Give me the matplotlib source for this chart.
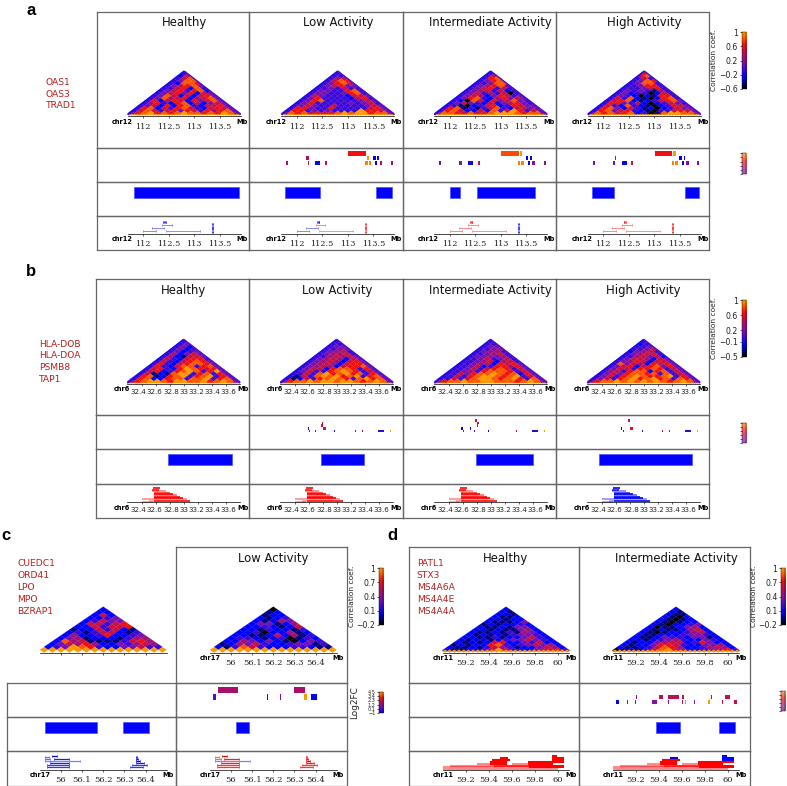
import matplotlib
matplotlib.use("Agg")
import matplotlib.pyplot as plt
import numpy as np
from matplotlib.collections import PolyCollection
from matplotlib.colors import LinearSegmentedColormap
from matplotlib.transforms import ScaledTranslation

W, H = 787, 786
fig = plt.figure(figsize=(W / 100, H / 100), dpi=100, facecolor="white")
plt.rcParams["font.family"] = "DejaVu Sans"

CMAP = LinearSegmentedColormap.from_list("corr", [
    (0.00, "#000000"), (0.22, "#0000ff"), (0.45, "#7a10b0"), (0.60, "#b01060"),
    (0.78, "#f01010"), (0.89, "#ff5500"), (1.00, "#ff9900")])
FRAME = "#666666"
GENE = "#b8201f"

# ---------------- correlation triangles (digits 0-9 = colour level, apex row first) ----------------
A_HEALTHY = ["3", "26", "368", "3488", "32887", "346784", "3367283", "34673782", "346747264",
             "3486262674", "34856725684", "372676274784", "3573278262464", "34627278326674",
             "378263786326764", "3686367476375784", "47897878988787984"]
A_LOW = ["3", "33", "356", "3687", "34786", "346744", "3343633", "34433783", "344334783",
         "3643332664", "34733332673", "347833333464", "3473333343463", "34643363333464",
         "377433733333674", "3773434333397764", "48786767898997884"]
A_INTER = ["3", "36", "378", "3478", "33488", "345784", "3467363", "34563623", "346353603",
           "3465247634", "34783257464", "320862746843", "3464326246743", "33102367237644",
           "378131368326644", "3786226283697364", "48876867899987884"]
A_HIGH = ["7", "68", "363", "3487", "34883", "334773", "3334673", "34343153", "342330263",
          "3432021773", "36382102783", "367821236784", "3774362023643", "36328321023764",
          "378426312023644", "3784673210336764", "48786782301899884"]
B_HEALTHY = ["3", "34", "342", "3423", "34234", "352464", "3521664", "36326773", "363267874",
             "3732678874", "37326883784", "367327987674", "3672378983794", "36121899378374",
             "378127893789374", "3782278838893784", "47899879988978984"]
B_LOW = ["3", "33", "344", "3344", "34563", "345563", "3356564", "34565264", "345652674",
         "3456526774", "34565267784", "346627887374", "3463378987364", "33638978978374",
         "316389897893784", "3126378987389784", "47889899899878984"]
B_INTER = ["3", "33", "344", "3345", "34553", "334563", "3445453", "33463463", "334562563",
           "3345627674", "33462377574", "334636787364", "3345378887364", "33647889878274",
           "336378998789364", "3363689987897384", "47889889988878984"]
B_HIGH = ["3", "23", "334", "3346", "24563", "345663", "3356462", "34665264", "345762664",
          "3846527674", "34672678474", "346637787364", "3563788278364", "34647887838364",
          "346378987789374", "3463789789783874", "47889898989878984"]
C_HEALTHY = ["2", "22", "262", "2234", "23644", "266367", "2263667", "12263621", "231366213",
             "2522372234", "24512221355", "285611113675", "2465752243565", "23498732244633"]
C_LOW = ["0", "12", "122", "2123", "21254", "244125", "2232126", "22132213", "223022512",
         "2211262513", "23321230132", "225424210243", "1254632234413", "21386322233211"]
D_HEALTHY = ["2", "21", "221", "2112", "22122", "211124", "1212232", "21121442", "221211452",
             "2112131542", "21212134432", "221131224632", "2122123446432", "21212672243622",
             "121227832346452", "2112136531224652", "21122369632245673"]
D_INTER = ["2", "21", "211", "2102", "21012", "210122", "2102234", "20112452", "212112562",
           "2101223562", "21122234432", "211243324412", "2212345322432", "21224566237422",
           "212247763224452", "2112368752235652", "01213689652234573"]

# ---------------- axis ticks ----------------
A_TICKS = [112, 112.5, 113, 113.5]
A_LABELS = ["112", "112.5", "113", "113.5"]
B_TICKS = [32.4, 32.6, 32.8, 33, 33.2, 33.4, 33.6]
B_LABELS = ["32.4", "32.6", "32.8", "33", "33.2", "33.4", "33.6"]
C_TICKS = [56, 56.1, 56.2, 56.3, 56.4]
C_LABELS = ["56", "56.1", "56.2", "56.3", "56.4"]
D_TICKS = [59.2, 59.4, 59.6, 59.8, 60]
D_LABELS = ["59.2", "59.4", "59.6", "59.8", "60"]

# ---------------- differential tracks: start, end, row, colour level ----------------
A_LOW_DMR_START = [112.996, 112.19, 113.37, 113.50, 113.58, 111.79, 112.23, 112.35, 112.55, 113.34, 113.41, 113.54, 113.63, 113.84]
A_LOW_DMR_END = [113.354, 112.25, 113.42, 113.55, 113.61, 111.84, 112.24, 112.46, 112.59, 113.39, 113.46, 113.58, 113.67, 113.88]
A_LOW_DMR_ROW = [0, 1, 1, 1, 1, 2, 2, 2, 2, 2, 2, 2, 2, 2]
A_LOW_DMR_LEVEL = [0.78, 0.58, 1, 0.22, 0.25, 0.58, 0.62, 0.24, 0.66, 0.96, 0.96, 0.22, 0.56, 0.58]
A_INT_DMR_START = [113.0, 113.37, 113.49, 113.58, 112.235, 111.80, 112.19, 112.36, 112.55, 113.34, 113.40, 113.54, 113.62, 113.84]
A_INT_DMR_END = [113.35, 113.42, 113.54, 113.61, 112.245, 111.84, 112.25, 112.46, 112.59, 113.37, 113.46, 113.58, 113.67, 113.88]
A_INT_DMR_ROW = [0, 0, 1, 1, 1, 2, 2, 2, 2, 2, 2, 2, 2, 2]
A_INT_DMR_LEVEL = [0.87, 1, 0.22, 0.22, 0.62, 0.45, 0.5, 0.28, 0.66, 0.96, 0.96, 0.22, 0.48, 0.48]
A_HIGH_DMR_START = [113.02, 113.37, 113.49, 113.58, 112.24, 111.80, 112.19, 112.36, 112.55, 113.35, 113.41, 113.54, 113.63, 113.84]
A_HIGH_DMR_END = [113.35, 113.42, 113.55, 113.61, 112.25, 111.84, 112.24, 112.46, 112.59, 113.38, 113.46, 113.58, 113.67, 113.88]
A_HIGH_DMR_ROW = [0, 0, 1, 1, 1, 2, 2, 2, 2, 2, 2, 2, 2, 2]
A_HIGH_DMR_LEVEL = [0.78, 1, 0.22, 0.22, 0.62, 0.42, 0.42, 0.24, 0.66, 0.96, 0.96, 0.22, 0.48, 0.42]

B_LOW_DMR_START = [32.774, 32.797, 32.77, 32.715, 32.805, 32.586, 32.607, 32.697, 32.812, 32.964, 33.264, 33.364, 33.545, 33.59, 33.765]
B_LOW_DMR_END = [32.780, 32.803, 32.805, 32.723, 32.843, 32.61, 32.615, 32.703, 32.818, 32.972, 33.270, 33.372, 33.551, 33.67, 33.773]
B_LOW_DMR_ROW = [0, 1, 2, 3, 3, 3, 4, 4, 4, 4, 4, 4, 4, 4, 4]
B_LOW_DMR_LEVEL = [0.22, 0.68, 0.7, 0.22, 0.72, 0.3, 0.45, 0.35, 0.68, 0.3, 0.66, 0.66, 0.5, 0.32, 1]
B_INT_DMR_START = [32.77, 32.805, 32.81, 32.58, 32.705, 32.605, 32.69, 32.762, 32.964, 33.255, 33.362, 33.54, 33.59, 33.765]
B_INT_DMR_END = [32.805, 32.84, 32.816, 32.61, 32.712, 32.613, 32.697, 32.77, 32.972, 33.261, 33.372, 33.546, 33.67, 33.775]
B_INT_DMR_ROW = [0, 1, 2, 3, 3, 4, 4, 4, 4, 4, 4, 4, 4, 4]
B_INT_DMR_LEVEL = [0.62, 0.62, 0.68, 0.25, 0.24, 0.45, 0.24, 0.35, 0.22, 0.66, 0.7, 0.55, 0.3, 1]
B_HIGH_DMR_START = [32.776, 32.77, 32.805, 32.60, 32.68, 32.587, 32.705, 32.79, 32.974, 33.264, 33.36, 33.543, 33.595, 33.765]
B_HIGH_DMR_END = [32.805, 32.776, 32.843, 32.607, 32.686, 32.597, 32.712, 32.796, 32.984, 33.270, 33.375, 33.553, 33.67, 33.775]
B_HIGH_DMR_ROW = [0, 1, 3, 3, 3, 4, 4, 4, 4, 4, 4, 4, 4, 4]
B_HIGH_DMR_LEVEL = [0.75, 0.24, 0.75, 0.3, 0.24, 0.26, 0.4, 0.24, 0.35, 0.66, 0.72, 0.62, 0.32, 1]

C_LOW_DMR_START = [55.937, 56.296, 55.917, 56.168, 56.23, 56.346, 56.38]
C_LOW_DMR_END = [56.033, 56.348, 55.929, 56.176, 56.238, 56.361, 56.408]
C_LOW_DMR_ROW = [0, 0, 1, 1, 1, 1, 1]
C_LOW_DMR_LEVEL = [0.58, 0.58, 0.38, 0.28, 0.45, 1, 0.22]

D_INT_DMR_START = [59.028, 59.125, 59.198, 59.236, 59.27, 59.345, 59.481, 59.6, 59.625, 59.708, 59.81, 59.83, 59.948, 60.057,
                   59.205, 59.285, 59.32, 59.405, 59.483, 59.6, 59.808, 59.858, 59.92, 59.976, 59.32, 59.285]
D_INT_DMR_END = [59.051, 59.130, 59.203, 59.24, 59.275, 59.382, 59.485, 59.61, 59.64, 59.713, 59.815, 59.845, 59.955, 60.083,
                 59.21, 59.29, 59.325, 59.434, 59.58, 59.617, 59.815, 59.865, 59.925, 60.02, 59.325, 59.29]
D_INT_DMR_ROW = [3, 3, 3, 3, 3, 3, 3, 3, 3, 3, 3, 3, 3, 3, 2, 2, 2, 2, 2, 2, 2, 2, 2, 2, 1, 1]
D_INT_DMR_LEVEL = [0.22, 0.5, 0.5, 0.5, 0.5, 0.48, 0.5, 0.68, 1, 0.5, 0.5, 1, 0.66, 0.66,
                   0.5, 0.5, 0.5, 0.62, 0.64, 0.66, 0.5, 0.5, 0.55, 0.66, 0.45, 0.45]

# ---------------- blue domain blocks ----------------
A_HEALTHY_BLOCK = ([111.82], [113.875])
A_LOW_BLOCK = ([111.78, 113.56], [112.455, 113.87])
A_INT_BLOCK = ([112.01, 112.53], [112.20, 113.68])
A_HIGH_BLOCK = ([111.79, 113.60], [112.21, 113.88])
B_HEALTHY_BLOCK = ([32.771], [33.686])
B_LOW_BLOCK = ([32.771], [33.386])
B_INT_BLOCK = ([32.79], [33.60])
B_HIGH_BLOCK = ([32.357], [33.695])
C_HEALTHY_BLOCK = ([55.924, 56.294], [56.169, 56.417])
C_LOW_BLOCK = ([56.024], [56.087])
D_INT_BLOCK = ([59.376, 59.924], [59.585, 60.061])

# ---------------- loop tracks: start, end, height, strength ----------------
A_ARC_START = [112.40, 112.43, 112.37, 112.18, 112.0, 112.44, 113.345, 113.345, 113.345, 113.345]
A_ARC_END = [112.41, 112.44, 112.56, 112.41, 112.25, 113.11, 113.365, 113.365, 113.365, 113.365]
A_ARC_HEIGHT = [12.3, 12.3, 9.3, 6.3, 3.3, 3.3, 10, 7.3, 4.7, 2]
A_ARC_ALPHA = [1, 1, .55, .55, .55, .5, 1, 1, 1, 1]
A_HEALTHY_ARC_COLOR = ["b"] * 10
A_LOW_ARC_COLOR = ["b", "b", "r", "b", "b", "r", "r", "r", "r", "r"]
A_INT_ARC_COLOR = ["r", "r", "r", "r", "r", "r", "b", "b", "b", "b"]
A_HIGH_ARC_COLOR = ["r"] * 10

B_ARC_START = [32.567, 32.548, 32.548, 32.576, 32.576, 32.576, 32.576, 32.576, 32.40, 32.576, 32.50, 32.40]
B_ARC_END = [32.662, 32.652, 32.748, 32.805, 32.852, 32.91, 32.95, 32.995, 33.04, 33.09, 32.576, 32.565]
B_ARC_HEIGHT = [14.3, 12.7, 11, 9.7, 8.3, 7, 5.7, 4.3, 3, 1.7, 1.7, 0.5]
B_ARC_ALPHA = [1, .9, .5, .8, 1, .6, 1, 1, .45, 1, .4, .4]

C_ARC_START = [55.924, 55.959, 55.924, 55.967, 55.924, 55.951, 55.935, 55.935,
               56.353, 56.353, 56.353, 56.353, 56.337, 56.326]
C_ARC_END = [55.943, 55.98, 55.951, 56.038, 56.09, 56.038, 56.038, 56.038,
             56.361, 56.364, 56.373, 56.392, 56.408, 56.389]
C_ARC_HEIGHT = [13.3, 14.3, 11.3, 11.3, 9.3, 7.3, 5.3, 3.3, 13.3, 11.3, 9.3, 7.3, 5.3, 3.3]
C_ARC_ALPHA = [.6, 1, .6, .9, .5, .9, .8, .8, 1, 1, 1, .9, .8, .8]
C_HEALTHY_ARC_COLOR = ["b"] * 14
C_LOW_ARC_COLOR = ["r", "r", "r", "r", "b", "r", "r", "r", "r", "r", "r", "r", "r", "r"]

D_ARC_START = [59.95, 59.95, 59.498, 59.425, 59.95, 59.41, 59.744, 59.295, 59.41, 59.60, 59.744,
               59.06, 59.45, 59.75, 59.005, 59.44, 59.75, 59.005]
D_ARC_END = [59.99, 60.05, 59.57, 59.585, 60.05, 59.556, 60.05, 59.41, 59.556, 59.744, 59.96,
             59.45, 59.75, 60.05, 59.44, 59.75, 60.05, 60.0]
D_ARC_HEIGHT = [14, 12, 12, 10, 10, 8, 8, 6.3, 6.3, 6.3, 6.3, 4.3, 4.3, 4.3, 2.7, 2.7, 2.7, 1.2]
D_ARC_ALPHA = [1, 1, 1, 1, 1, 1, 1, .45, 1, .45, 1, .45, .8, 1, .45, .45, 1, .45]
D_HEALTHY_ARC_COLOR = ["r"] * 18
D_INT_ARC_COLOR = ["b", "b", "b", "r", "b", "r", "r", "r", "r", "r", "r", "r", "r", "r", "r", "r", "r", "r"]


def px_axes(x0, y0, x1, y1, **kw):
    ax = fig.add_axes([x0 / W, 1 - y1 / H, (x1 - x0) / W, (y1 - y0) / H], **kw)
    ax.patch.set_alpha(0)
    return ax


def frame_axes(x0, y0, x1, y1, xlim=None):
    ax = px_axes(x0, y0, x1, y1)
    ax.set_xticks([])
    ax.set_yticks([])
    for s in ax.spines.values():
        s.set_color(FRAME)
        s.set_linewidth(0.9)
    if xlim is not None:
        ax.set_xlim(*xlim)
    ax.set_ylim(y1 - y0, 0)
    return ax


def inner_axis(x0, x1, y_axis, height, lo, hi, ticks, labels, style):
    ax = px_axes(x0, y_axis - height, x1, y_axis)
    ax.set_xlim(lo, hi)
    ax.set_ylim(0, height)
    ax.set_yticks([])
    for side in ("left", "right", "top"):
        ax.spines[side].set_visible(False)
    ax.spines["bottom"].set_linewidth(0.5)
    ax.set_xticks(ticks)
    if labels is None:
        ax.set_xticklabels([])
        ax.tick_params(axis="x", length=1.6, width=0.5)
    else:
        ax.set_xticklabels(labels)
        ax.tick_params(axis="x", length=1.6, width=0.5, pad=style["pad"],
                       labelsize=style["size"], colors="#222222")
        for lab, shift in zip(ax.get_xticklabels(), style.get("shift", [0] * len(labels))):
            lab.set_family(style["family"])
            lab.set_transform(lab.get_transform() + ScaledTranslation(shift / 100, 0, fig.dpi_scale_trans))
        ax.annotate(style["chrom"], xy=(lo, 0), xycoords="data",
                    xytext=(style["chr_dx"] * .72, -style["chr_dy"] * .72), textcoords="offset points",
                    ha="right", va="center", fontsize=4.8, fontweight="bold", annotation_clip=False)
        ax.annotate("Mb", xy=(hi, 0), xycoords="data",
                    xytext=(style["mb_dx"] * .72, -style["chr_dy"] * .72), textcoords="offset points",
                    ha="center", va="center", fontsize=4.8, fontweight="bold", annotation_clip=False)
    return ax


def draw_triangle(ax, rows, n_diag, lo, hi, height, outline):
    n_rows = len(rows)
    house = n_diag != n_rows + 1
    n = n_rows if house else n_diag
    dx = (hi - lo) / n
    hh = height / (n + 1)
    apex = (lo + hi) / 2
    hf = hh * n / n_diag
    polys, vals = [], []
    for k, row in enumerate(rows):
        y = height - (k + 1) * hh
        for j, ch in enumerate(row):
            x = apex + (j - k / 2) * dx
            if house and k == n - 1:
                poly = [(x - dx / 2, y), (x, y + hh), (x + dx / 2, y), (x + dx / 2, hf), (x - dx / 2, hf)]
            else:
                poly = [(x - dx / 2, y), (x, y + hh), (x + dx / 2, y), (x, y - hh)]
            polys.append(poly)
            vals.append(int(ch) / 9)
    cols = CMAP(np.array(vals))
    ax.add_collection(PolyCollection(polys, facecolors=cols, edgecolors=cols, linewidths=0.15, clip_on=False))
    dxf = (hi - lo) / n_diag
    diag = []
    for i in range(n_diag):
        x = lo + (i + .5) * dxf
        diag.append([(x - dxf / 2, hf), (x, 2 * hf), (x + dxf / 2, hf), (x, 0)])
    ax.add_collection(PolyCollection(diag, facecolors=CMAP(1.0), edgecolors="none", clip_on=False))
    if outline:
        ax.plot([lo, apex], [hf, height], color="#1a08f0", lw=1.1, clip_on=False, solid_capstyle="butt")
        ax.plot([apex, hi], [height, hf], color="#4a10d0", lw=1.0, clip_on=False, solid_capstyle="butt")


def draw_dmr(ax, start, end, row, level, first, step, height):
    start, end = np.array(start), np.array(end)
    ax.barh(first + np.array(row) * step, end - start, left=start, height=height,
            color=CMAP(np.array(level)), linewidth=0)


def draw_blocks(ax, block):
    s, e = np.array(block[0]), np.array(block[1])
    ax.barh([10.2] * len(s), e - s, left=s, height=11.6, color="#0000ff",
            edgecolor="#5050ff", linewidth=0.5)


def draw_arcs(ax, start, end, height, alpha, colors, lw, cap):
    for s, e, h, a, c in zip(start, end, height, alpha, colors):
        col = "#ff0000" if c == "r" else "#0000ff"
        ax.plot([s, e], [h, h], color=col, alpha=a, lw=lw, solid_capstyle="butt", clip_on=False)
        if cap:
            ax.plot([s, s], [h - 1, h + 1], color=col, alpha=a, lw=.4, clip_on=False)
            ax.plot([e, e], [h - 1, h + 1], color=col, alpha=a, lw=.4, clip_on=False)


def colorbar(x0, y0, x1, y1, ticks, labels, vmin, vmax, title, title_x, title_size=5.4, low=0.0, alpha=1.0, tick_size=5.6):
    ax = px_axes(x0, y0, x1, y1)
    grad = np.linspace(low, 1, 256).reshape(-1, 1)
    ax.imshow(grad, origin="lower", aspect="auto", cmap=CMAP, vmin=0, vmax=1,
              extent=(0, 1, vmin, vmax), alpha=alpha)
    ax.set_xticks([])
    ax.set_yticks(ticks)
    ax.set_yticklabels(labels if labels else [])
    ax.tick_params(axis="y", length=1.6, width=0.5, pad=1, labelsize=tick_size, colors="#222222")
    for s in ax.spines.values():
        s.set_linewidth(0.3)
    if title:
        ax.set_ylabel(title, fontsize=title_size, color="#222222")
        ax.yaxis.set_label_coords((title_x - x0) / (x1 - x0), 0.5)


def genes(x, ys, names):
    for y, name in zip(ys, names):
        fig.text(x / W, 1 - y / H, name, color=GENE, fontsize=6.6, ha="left", va="center")


def letter(x, y, s):
    fig.text(x / W, 1 - y / H, s, fontsize=12, fontweight="bold", family="Liberation Sans",
             ha="center", va="center")


def build_panel(edges, rows_y, apexes, half_w, half_mb, centre_mb, ticks, labels, style_top, style_bot,
                heat_axis, arc_axis, columns):
    for i, col in enumerate(columns):
        p0, p1 = edges[i], edges[i + 1]
        ap = apexes[i]
        x0, x1 = ap - half_w, ap + half_w
        lo, hi = centre_mb - half_mb, centre_mb + half_mb
        per_px = (hi - lo) / (x1 - x0)
        xlim = (lo - (x0 - p0) * per_px, hi + (p1 - x1) * per_px)
        if col.get("top_frame", True):
            frame_axes(p0, rows_y[0], p1, rows_y[1], xlim)
        if col.get("title"):
            fig.text(ap / W, 1 - (rows_y[0] + 11.2) / H, col["title"], fontsize=8.4,
                     ha="center", va="center", color="#111111")
        hax = inner_axis(x0, x1, heat_axis, heat_axis - col["apex_y"], lo, hi, ticks,
                         labels if col.get("top_labels", True) else None, style_top)
        draw_triangle(hax, col["heat"], col["n_diag"], lo, hi, heat_axis - col["apex_y"], col["n_diag"] > 30)
        dax = frame_axes(p0, rows_y[1], p1, rows_y[2], xlim)
        if col.get("dmr"):
            draw_dmr(dax, *col["dmr"], *col["dmr_geom"])
        bax = frame_axes(p0, rows_y[2], p1, rows_y[3], xlim)
        if col.get("block"):
            draw_blocks(bax, col["block"])
        frame_axes(p0, rows_y[3], p1, rows_y[4], xlim)
        aax = inner_axis(x0, x1, arc_axis, 16, lo, hi, ticks, labels, style_bot)
        draw_arcs(aax, *col["arc"], col["arc_lw"], col["arc_cap"])


SERIF_A = dict(family="DejaVu Serif", size=5.9, pad=3.4, chrom="chr12", chr_dx=5, chr_dy=6.2, mb_dx=1.7)
SERIF_A2 = dict(SERIF_A, pad=3.0, chr_dy=4.8)
b_shift = [-3.3, -1, 1.3, 0, -1, 0.7, 3]
SANS_B = dict(family="DejaVu Sans", size=5.1, pad=2.0, chrom="chr6", chr_dx=3.3, chr_dy=5.2, mb_dx=3.3, shift=b_shift)
SERIF_C = dict(family="DejaVu Serif", size=6, pad=2.8, chrom="chr17", chr_dx=11, chr_dy=4.8, mb_dx=1)
SERIF_D = dict(family="DejaVu Serif", size=6, pad=2.8, chrom="chr11", chr_dx=10.7, chr_dy=4.8, mb_dx=2)

A_GEOM = (5.4, 4.7, 4.4)
B_GEOM = (5, 2.67, 2.6)
C_GEOM = (6.7, 7.3, 6.1)
D_GEOM = (4.3, 4.7, 4.2)

# panel a
build_panel([96.7, 249.3, 402.7, 556, 709.3], [11.7, 148, 182.3, 216, 250],
            [184.2, 337.8, 490.7, 644.3], 56.5, 1.105, 112.805, A_TICKS, A_LABELS, SERIF_A, SERIF_A2,
            115.7, 234, [
    dict(title="Healthy", heat=A_HEALTHY, n_diag=42, apex_y=71, block=A_HEALTHY_BLOCK,
         arc=(A_ARC_START, A_ARC_END, A_ARC_HEIGHT, A_ARC_ALPHA, A_HEALTHY_ARC_COLOR), arc_lw=.6, arc_cap=True),
    dict(title="Low Activity", heat=A_LOW, n_diag=42, apex_y=71, block=A_LOW_BLOCK,
         dmr=(A_LOW_DMR_START, A_LOW_DMR_END, A_LOW_DMR_ROW, A_LOW_DMR_LEVEL), dmr_geom=A_GEOM,
         arc=(A_ARC_START, A_ARC_END, A_ARC_HEIGHT, A_ARC_ALPHA, A_LOW_ARC_COLOR), arc_lw=.6, arc_cap=True),
    dict(title="Intermediate Activity", heat=A_INTER, n_diag=42, apex_y=71, block=A_INT_BLOCK,
         dmr=(A_INT_DMR_START, A_INT_DMR_END, A_INT_DMR_ROW, A_INT_DMR_LEVEL), dmr_geom=A_GEOM,
         arc=(A_ARC_START, A_ARC_END, A_ARC_HEIGHT, A_ARC_ALPHA, A_INT_ARC_COLOR), arc_lw=.6, arc_cap=True),
    dict(title="High Activity", heat=A_HIGH, n_diag=42, apex_y=71, block=A_HIGH_BLOCK,
         dmr=(A_HIGH_DMR_START, A_HIGH_DMR_END, A_HIGH_DMR_ROW, A_HIGH_DMR_LEVEL), dmr_geom=A_GEOM,
         arc=(A_ARC_START, A_ARC_END, A_ARC_HEIGHT, A_ARC_ALPHA, A_HIGH_ARC_COLOR), arc_lw=.6, arc_cap=True),
])

# panel b
build_panel([96, 249.3, 402.5, 555.8, 709], [279, 415.3, 449.3, 483.7, 518],
            [183.7, 336.7, 490.7, 643.7], 56.4, 0.805, 33, B_TICKS, B_LABELS, SANS_B, SANS_B,
            383.7, 502.3, [
    dict(title="Healthy", heat=B_HEALTHY, n_diag=60, apex_y=339.3, block=B_HEALTHY_BLOCK,
         arc=(B_ARC_START, B_ARC_END, B_ARC_HEIGHT, B_ARC_ALPHA, ["r"] * 12), arc_lw=1.2, arc_cap=False),
    dict(title="Low Activity", heat=B_LOW, n_diag=60, apex_y=339.3, block=B_LOW_BLOCK,
         dmr=(B_LOW_DMR_START, B_LOW_DMR_END, B_LOW_DMR_ROW, B_LOW_DMR_LEVEL), dmr_geom=B_GEOM,
         arc=(B_ARC_START, B_ARC_END, B_ARC_HEIGHT, B_ARC_ALPHA, ["r"] * 12), arc_lw=1.2, arc_cap=False),
    dict(title="Intermediate Activity", heat=B_INTER, n_diag=60, apex_y=339.3, block=B_INT_BLOCK,
         dmr=(B_INT_DMR_START, B_INT_DMR_END, B_INT_DMR_ROW, B_INT_DMR_LEVEL), dmr_geom=B_GEOM,
         arc=(B_ARC_START, B_ARC_END, B_ARC_HEIGHT, B_ARC_ALPHA, ["r"] * 12), arc_lw=1.2, arc_cap=False),
    dict(title="High Activity", heat=B_HIGH, n_diag=60, apex_y=339.3, block=B_HIGH_BLOCK,
         dmr=(B_HIGH_DMR_START, B_HIGH_DMR_END, B_HIGH_DMR_ROW, B_HIGH_DMR_LEVEL), dmr_geom=B_GEOM,
         arc=(B_ARC_START, B_ARC_END, B_ARC_HEIGHT, B_ARC_ALPHA, ["b"] * 12), arc_lw=1.2, arc_cap=False),
])

# panel c
build_panel([6.7, 176.3, 346.7], [547.3, 683.3, 717.3, 751.3, 786],
            [103.2, 273.3], 63.4, 0.2995, 56.2, C_TICKS, C_LABELS, SERIF_C, SERIF_C,
            652.7, 770, [
    dict(title=None, top_frame=False, top_labels=False, heat=C_HEALTHY, n_diag=15, apex_y=606.7, block=C_HEALTHY_BLOCK,
         arc=(C_ARC_START, C_ARC_END, C_ARC_HEIGHT, C_ARC_ALPHA, C_HEALTHY_ARC_COLOR), arc_lw=.9, arc_cap=True),
    dict(title="Low Activity", heat=C_LOW, n_diag=15, apex_y=606.7, block=C_LOW_BLOCK,
         dmr=(C_LOW_DMR_START, C_LOW_DMR_END, C_LOW_DMR_ROW, C_LOW_DMR_LEVEL), dmr_geom=C_GEOM,
         arc=(C_ARC_START, C_ARC_END, C_ARC_HEIGHT, C_ARC_ALPHA, C_LOW_ARC_COLOR), arc_lw=.9, arc_cap=True),
])

# panel d
build_panel([408.7, 579.3, 749.7], [547.3, 683.3, 717.3, 751.3, 786],
            [506, 676], 63.4, 0.551, 59.55, D_TICKS, D_LABELS, SERIF_D, SERIF_D,
            652.7, 770, [
    dict(title="Healthy", heat=D_HEALTHY, n_diag=27, apex_y=606.7,
         arc=(D_ARC_START, D_ARC_END, D_ARC_HEIGHT, D_ARC_ALPHA, D_HEALTHY_ARC_COLOR), arc_lw=1.5, arc_cap=False),
    dict(title="Intermediate Activity", heat=D_INTER, n_diag=27, apex_y=606.7, block=D_INT_BLOCK,
         dmr=(D_INT_DMR_START, D_INT_DMR_END, D_INT_DMR_ROW, D_INT_DMR_LEVEL), dmr_geom=D_GEOM,
         arc=(D_ARC_START, D_ARC_END, D_ARC_HEIGHT, D_ARC_ALPHA, D_INT_ARC_COLOR), arc_lw=1.5, arc_cap=False),
])

# colour bars
colorbar(741.7, 32.3, 746, 89, [-0.6, -0.2, 0.2, 0.6, 1], ["\u22120.6", "\u22120.2", "0.2", "0.6", "1"], -0.6, 1,
         "Correlation coef.", 717)
colorbar(741.7, 153.3, 746, 174, [0, .2, .4, .6, .8, 1], None, 0, 1, None, 0, low=0.4, alpha=.7)
colorbar(741.7, 300, 746, 356.7, [-0.5, -0.1, 0.2, 0.6, 1], ["\u22120.5", "\u22120.1", "0.2", "0.6", "1"], -0.5, 1,
         "Correlation coef.", 717)
colorbar(741.7, 422.7, 746, 443.3, [0, .2, .4, .6, .8, 1], None, 0, 1, None, 0, low=0.4, alpha=.7)
colorbar(379, 568.3, 383.3, 625, [-0.2, 0.1, 0.4, 0.7, 1], ["\u22120.2", "0.1", "0.4", "0.7", "1"], -0.2, 1,
         "Correlation coef.", 354.5)
colorbar(379, 692.3, 383.3, 712.7, [-1, 0.1, 1.2, 2.3, 3.4, 4.5], ["\u22121", "0.1", "1.2", "2.3", "3.4", "4.5"], -1, 4.5,
         "Log2FC", 359.5, title_size=6.4, low=0.22, tick_size=3.6)
colorbar(781, 568.3, 785.3, 625, [-0.2, 0.1, 0.4, 0.7, 1], ["\u22120.2", "0.1", "0.4", "0.7", "1"], -0.2, 1,
         "Correlation coef.", 756.5)
colorbar(781, 690.7, 785.3, 711, [0, .2, .4, .6, .8, 1], None, 0, 1, None, 0, low=0.4, alpha=.7)

# texts
genes(46, [82.7, 94.5, 106], ["OAS1", "OAS3", "TRAD1"])
genes(39, [344.5, 356, 367.5, 379], ["HLA-DOB", "HLA-DOA", "PSMB8", "TAP1"])
genes(17.3, [563.5, 575.3, 587, 599, 611], ["CUEDC1", "ORD41", "LPO", "MPO", "BZRAP1"])
genes(416.7, [563.5, 575.3, 587, 599, 611], ["PATL1", "STX3", "MS4A6A", "MS4A4E", "MS4A4A"])
letter(31, 10.5, "a")
letter(31, 271, "b")
letter(5.5, 535.5, "c")
letter(392, 535.5, "d")

fig.savefig("out.png", dpi=100)
